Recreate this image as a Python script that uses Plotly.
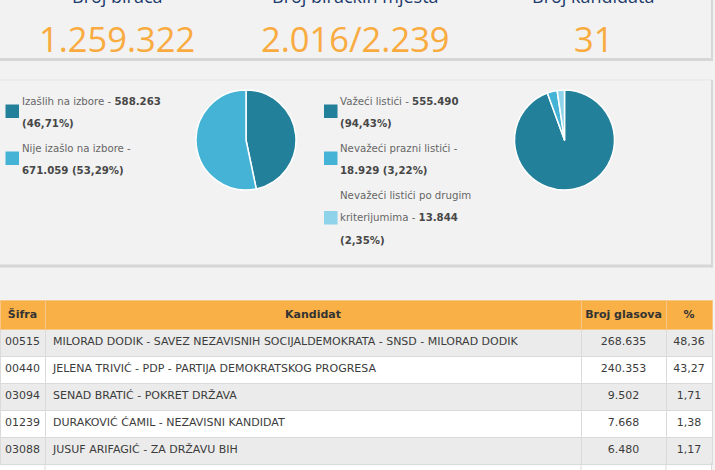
import plotly.graph_objects as go

W, H = 715, 470

# ---------------- data ----------------
summary_titles = ["Broj birača", "Broj biračkih mjesta", "Broj kandidata"]
summary_values = ["1.259.322", "2.016/2.239", "31"]

turnout_labels = ["Izašlih na izbore", "Nije izašlo na izbore"]
turnout_values = [588263, 671059]
turnout_text = ["588.263", "671.059"]
turnout_pct = ["46,71%", "53,29%"]

ballot_labels = ["Važeći listići", "Nevažeći prazni listići", "Nevažeći listići po drugim kriterijumima"]
ballot_values = [555490, 18929, 13844]
ballot_text = ["555.490", "18.929", "13.844"]
ballot_pct = ["94,43%", "3,22%", "2,35%"]

table_header = ["Šifra", "Kandidat", "Broj glasova", "%"]
codes = ["00515", "00440", "03094", "01239", "03088"]
candidates = [
    "MILORAD DODIK - SAVEZ NEZAVISNIH SOCIJALDEMOKRATA - SNSD - MILORAD DODIK",
    "JELENA TRIVIĆ - PDP - PARTIJA DEMOKRATSKOG PROGRESA",
    "SENAD BRATIĆ - POKRET DRŽAVA",
    "DURAKOVIĆ ĆAMIL - NEZAVISNI KANDIDAT",
    "JUSUF ARIFAGIĆ - ZA DRŽAVU BIH",
]
votes = ["268.635", "240.353", "9.502", "7.668", "6.480"]
percents = ["48,36", "43,27", "1,71", "1,38", "1,17"]

# ---------------- style ----------------
FONT = "DejaVu Sans, Verdana, sans-serif"
DARK, LIGHT, LIGHTEST = "#23809b", "#45b3d6", "#8fd3ea"
ORANGE = "#f9ab40"
NAVY = "#1d3b6c"
GRAY_TXT = "#666666"
BOLD_TXT = "#474747"
BG = "#f2f2f2"


def px(x):
    return x / W


def py(y):
    return 1 - y / H


fig = go.Figure()

# pies
fig.add_trace(go.Pie(
    labels=turnout_labels, values=turnout_values, sort=False, direction="clockwise",
    marker=dict(colors=[DARK, LIGHT], line=dict(color="white", width=1.5)),
    textinfo="none", hoverinfo="label+value+percent", showlegend=False,
    domain=dict(x=[px(196), px(296)], y=[py(190), py(90)]),
))
fig.add_trace(go.Pie(
    labels=ballot_labels, values=ballot_values, sort=False, direction="clockwise",
    marker=dict(colors=[DARK, LIGHT, LIGHTEST], line=dict(color="white", width=1.5)),
    textinfo="none", hoverinfo="label+value+percent", showlegend=False,
    domain=dict(x=[px(514.5), px(614.5)], y=[py(190), py(90)]),
))

# partially visible next row of the table (drawn first, underneath)
shapes = []
shapes.append(dict(type="rect", xref="paper", yref="paper", x0=0, x1=px(712), y0=0, y1=py(463),
                   fillcolor="#ffffff", line=dict(width=0), layer="below"))

# table
n = len(codes)
row_fill = ["#ebebeb" if i % 2 == 0 else "#ffffff" for i in range(n)]
fig.add_trace(go.Table(
    domain=dict(x=[0, px(712)], y=[0, py(300)]),
    columnwidth=[45, 536, 85, 46],
    header=dict(
        values=[f"<b>{h.replace(' ', chr(160))}</b>" for h in table_header],
        fill_color="#f8b047", line=dict(color="#f6c888", width=1),
        align="center", height=25,
        font=dict(family=FONT, size=11, color="#333333"),
    ),
    cells=dict(
        values=[codes, candidates, votes, percents],
        fill_color=[row_fill] * 4, line=dict(color="#dadada", width=1),
        align=["center", "left", "center", "center"], height=27,
        font=dict(family=FONT, size=11, color="#3c3c3c"),
    ),
))

# top panel border/shadow
shapes.append(dict(type="line", xref="paper", yref="paper", x0=0, x1=px(712), y0=py(59.5), y1=py(59.5),
                   line=dict(color="#d6d6d6", width=3)))
shapes.append(dict(type="line", xref="paper", yref="paper", x0=px(712), x1=px(712), y0=py(61), y1=1,
                   line=dict(color="#d6d6d6", width=2)))
# second panel
shapes.append(dict(type="line", xref="paper", yref="paper", x0=0, x1=px(712), y0=py(80), y1=py(80),
                   line=dict(color="#e6e6e6", width=1)))
shapes.append(dict(type="line", xref="paper", yref="paper", x0=0, x1=px(712), y0=py(266), y1=py(266),
                   line=dict(color="#d6d6d6", width=3)))
shapes.append(dict(type="line", xref="paper", yref="paper", x0=px(712), x1=px(712), y0=py(267.5), y1=py(80),
                   line=dict(color="#d6d6d6", width=2)))
for xv in [45, 581, 666, 711.5]:
    shapes.append(dict(type="line", xref="paper", yref="paper", x0=px(xv), x1=px(xv), y0=0, y1=py(463),
                       line=dict(color="#dadada", width=1)))

annotations = []
centers = [117, 355, 593]
for c, t, v in zip(centers, summary_titles, summary_values):
    annotations.append(dict(x=px(c), y=py(-4), xref="paper", yref="paper", text=t, showarrow=False,
                            xanchor="center", yanchor="middle",
                            font=dict(family="Open Sans, Roboto, sans-serif", size=18, color=NAVY)))
    annotations.append(dict(x=px(c), y=py(39), xref="paper", yref="paper", text=v, showarrow=False,
                            xanchor="center", yanchor="middle",
                            font=dict(family="Open Sans, Roboto, sans-serif", size=34.5, color=ORANGE)))


def legend_line(x, y, text):
    annotations.append(dict(x=px(x), y=py(y), xref="paper", yref="paper", text=text, showarrow=False,
                            xanchor="left", yanchor="middle",
                            font=dict(family=FONT, size=10.2, color=GRAY_TXT)))


def square(x, y0, color):
    shapes.append(dict(type="rect", xref="paper", yref="paper", x0=px(x), x1=px(x + 13.5),
                       y0=py(y0 + 13.5), y1=py(y0), fillcolor=color, line=dict(width=0)))


def b(s):
    return f"<b><span style='color:{BOLD_TXT}'>{s}</span></b>"


# left legend
square(5.5, 104.5, DARK)
legend_line(19.5, 101, f"{turnout_labels[0]} - " + b(turnout_text[0]))
legend_line(19.5, 123.5, b(f"({turnout_pct[0]})"))
square(5.5, 151.5, LIGHT)
legend_line(19.5, 148, f"{turnout_labels[1]} -")
legend_line(19.5, 170.5, b(f"{turnout_text[1]} ({turnout_pct[1]})"))

# right legend
square(324, 104.5, DARK)
legend_line(338, 101, f"{ballot_labels[0]} - " + b(ballot_text[0]))
legend_line(338, 123.5, b(f"({ballot_pct[0]})"))
square(324, 151.5, LIGHT)
legend_line(338, 148, f"{ballot_labels[1]} -")
legend_line(338, 170.5, b(f"{ballot_text[1]} ({ballot_pct[1]})"))
square(324, 211, LIGHTEST)
legend_line(338, 195, "Nevažeći listići po drugim")
legend_line(338, 217.5, "kriterijumima - " + b(ballot_text[2]))
legend_line(338, 240.5, b(f"({ballot_pct[2]})"))

fig.update_layout(
    width=W, height=H, margin=dict(l=0, r=0, t=0, b=0),
    paper_bgcolor=BG, plot_bgcolor=BG,
    shapes=shapes, annotations=annotations,
    font=dict(family=FONT),
)

fig.write_html("out.html", config={"displayModeBar": False},
               post_script="document.body.style.margin='0';document.body.style.background='#f2f2f2';")
